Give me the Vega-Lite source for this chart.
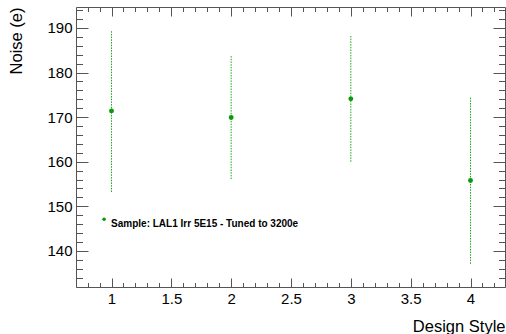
{
  "$schema": "https://vega.github.io/schema/vega-lite/v6.json",
  "width": 429,
  "height": 280,
  "autosize": {"type": "none"},
  "padding": {"left": 76, "top": 7, "right": 1, "bottom": 47},
  "background": "white",
  "config": {
    "font": "Liberation Sans",
    "view": {"stroke": "#555555", "strokeWidth": 1},
    "axis": {"grid": false, "domain": false, "labelColor": "#000000", "titleColor": "#000000", "tickColor": "#555555", "labelFont": "Liberation Sans", "titleFont": "Liberation Sans", "titleFontWeight": "normal"}
  },
  "datasets": {
    "pts": [
      {"style": 1, "noise": 171.4, "lo": 153.2, "hi": 189.4},
      {"style": 2, "noise": 169.9, "lo": 156.1, "hi": 183.7},
      {"style": 3, "noise": 174.1, "lo": 160.0, "hi": 188.4},
      {"style": 4, "noise": 155.8, "lo": 137.1, "hi": 174.5}
    ],
    "leg": [
      {"style": 0.938, "noise": 147.1, "label": "Sample: LAL1 Irr 5E15 - Tuned to 3200e"}
    ]
  },
  "resolve": {"axis": {"x": "independent", "y": "independent"}},
  "layer": [
    {
      "data": {"name": "pts"},
      "mark": {"type": "rule", "color": "#1aa81a", "strokeWidth": 1, "strokeDash": [1.5, 1.2]},
      "encoding": {
        "x": {"field": "style", "type": "quantitative", "scale": {"domain": [0.7033, 4.2883], "nice": false, "zero": false},
              "axis": {"orient": "bottom", "values": [1, 1.5, 2, 2.5, 3, 3.5, 4], "format": "~g", "ticks": false, "labelPadding": 4, "labelFontSize": 15, "title": "Design Style", "titleFontSize": 16.5, "titleAnchor": "end", "titleAlign": "right", "titleBaseline": "alphabetic", "titleX": 429, "titleY": 44}},
        "y": {"field": "lo", "type": "quantitative", "scale": {"domain": [131.9, 194.7], "nice": false, "zero": false},
              "axis": {"orient": "left", "values": [140, 150, 160, 170, 180, 190], "format": "d", "ticks": false, "labelPadding": 4, "labelFontSize": 15, "title": "Noise (e)", "titleFontSize": 16.5, "titleAngle": -90, "titleAlign": "right", "titleBaseline": "alphabetic", "titleX": -55, "titleY": 0}},
        "y2": {"field": "hi"}
      }
    },
    {
      "data": {"name": "pts"},
      "mark": {"type": "circle", "color": "#0a9a0a", "opacity": 1, "size": 24},
      "encoding": {
        "x": {"field": "style", "type": "quantitative", "axis": {"orient": "bottom", "values": [1, 1.5, 2, 2.5, 3, 3.5, 4], "labels": false, "title": null, "tickSize": -9}},
        "y": {"field": "noise", "type": "quantitative", "axis": {"orient": "left", "values": [140, 150, 160, 170, 180, 190], "labels": false, "title": null, "tickSize": -12}}
      }
    },
    {
      "data": {"name": "leg"},
      "mark": {"type": "circle", "color": "#0a9a0a", "opacity": 1, "size": 13},
      "encoding": {
        "x": {"field": "style", "type": "quantitative", "axis": {"orient": "top", "values": [1, 1.5, 2, 2.5, 3, 3.5, 4], "labels": false, "title": null, "tickSize": -9}},
        "y": {"field": "noise", "type": "quantitative", "axis": {"orient": "right", "values": [140, 150, 160, 170, 180, 190], "labels": false, "title": null, "tickSize": -12}}
      }
    },
    {
      "data": {"name": "leg"},
      "mark": {"type": "text", "align": "left", "baseline": "alphabetic", "dx": 7, "dy": 8, "fontSize": 10, "fontWeight": "bold", "color": "#000000"},
      "encoding": {
        "x": {"field": "style", "type": "quantitative", "axis": {"orient": "bottom", "values": [0.8, 0.9, 1.1, 1.2, 1.3, 1.4, 1.6, 1.7, 1.8, 1.9, 2.1, 2.2, 2.3, 2.4, 2.6, 2.7, 2.8, 2.9, 3.1, 3.2, 3.3, 3.4, 3.6, 3.7, 3.8, 3.9, 4.1, 4.2], "labels": false, "title": null, "tickSize": -4.5}},
        "y": {"field": "noise", "type": "quantitative", "axis": {"orient": "left", "values": [132, 134, 136, 138, 142, 144, 146, 148, 152, 154, 156, 158, 162, 164, 166, 168, 172, 174, 176, 178, 182, 184, 186, 188, 192, 194], "labels": false, "title": null, "tickSize": -6.5}},
        "text": {"field": "label"}
      }
    },
    {
      "data": {"name": "leg"},
      "mark": {"type": "circle", "opacity": 0, "size": 1},
      "encoding": {
        "x": {"field": "style", "type": "quantitative", "axis": {"orient": "top", "values": [0.8, 0.9, 1.1, 1.2, 1.3, 1.4, 1.6, 1.7, 1.8, 1.9, 2.1, 2.2, 2.3, 2.4, 2.6, 2.7, 2.8, 2.9, 3.1, 3.2, 3.3, 3.4, 3.6, 3.7, 3.8, 3.9, 4.1, 4.2], "labels": false, "title": null, "tickSize": -4.5}},
        "y": {"field": "noise", "type": "quantitative", "axis": {"orient": "right", "values": [132, 134, 136, 138, 142, 144, 146, 148, 152, 154, 156, 158, 162, 164, 166, 168, 172, 174, 176, 178, 182, 184, 186, 188, 192, 194], "labels": false, "title": null, "tickSize": -6.5}}
      }
    }
  ]
}
